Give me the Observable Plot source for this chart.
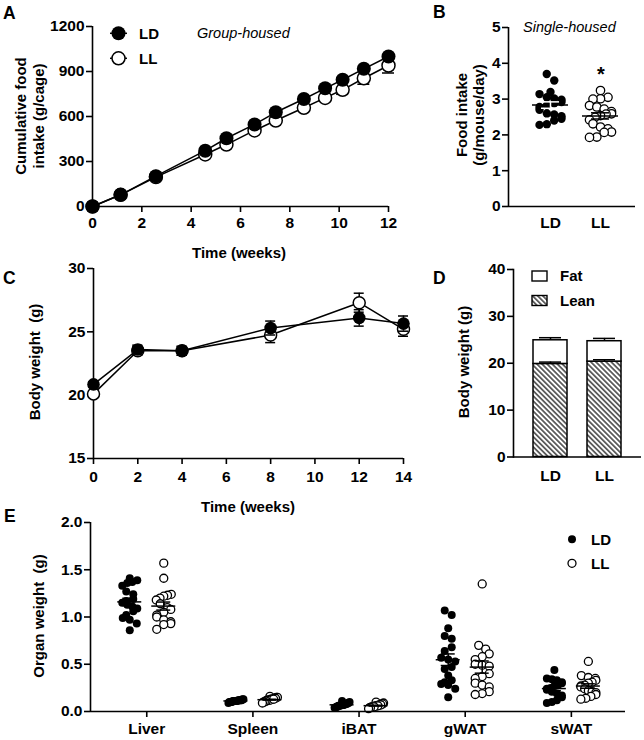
<!DOCTYPE html>
<html>
<head>
<meta charset="utf-8">
<script src="https://cdn.jsdelivr.net/npm/d3@7"></script>
<script src="https://cdn.jsdelivr.net/npm/@observablehq/plot@0.6"></script>
<style>
html, body { margin: 0; padding: 0; background: #fff; }
#root { position: relative; width: 644px; height: 740px; overflow: hidden; }
#root > svg { position: absolute; }
g[aria-label$="axis tick"], g[aria-label="x-axis"] line, g[aria-label="y-axis"] line { stroke-width: 1.6px; }
</style>
</head>
<body>
<div id="root"></div>
<script>
// ================= DATA =================
const groups = ["LD", "LL"];

// Panel A: cumulative food intake, group-housed (g/cage)
const intakeWeeks = [0, 1.14, 2.57, 4.57, 5.43, 6.57, 7.43, 8.57, 9.43, 10.14, 11, 12];
const intakeLD = [0, 78, 202, 372, 455, 547, 628, 717, 788, 845, 918, 1000];
const intakeLL = [0, 78, 196, 347, 413, 507, 573, 658, 724, 778, 855, 940];
const intakeLLsem = [0, 3, 5, 8, 9, 10, 12, 14, 18, 30, 40, 50];
const intakeTicksX = [0, 2, 4, 6, 8, 10, 12];
const intakeTicksY = [0, 300, 600, 900, 1200];

// Panel B: food intake, single-housed (g/mouse/day)
const singleLD = [3.70, 3.52, 3.20, 3.14, 3.05, 3.02, 2.98, 2.92, 2.88, 2.82, 2.78, 2.70, 2.60, 2.57, 2.52, 2.45, 2.40, 2.30, 2.28];
const singleLL = [3.24, 3.05, 3.01, 3.00, 2.82, 2.78, 2.72, 2.65, 2.59, 2.58, 2.54, 2.49, 2.42, 2.31, 2.22, 2.17, 2.08, 2.07, 1.94, 1.93];
const singleTicksY = [0, 1, 2, 3, 4, 5];

// Panel C: body weight over time (g)
const bwWeeks = [0, 2, 4, 8, 12, 14];
const bwLD = [20.85, 23.6, 23.5, 25.3, 26.1, 25.65];
const bwLDsem = [0.2, 0.35, 0.35, 0.55, 0.65, 0.6];
const bwLL = [20.1, 23.5, 23.5, 24.75, 27.3, 25.2];
const bwLLsem = [0.2, 0.35, 0.35, 0.6, 0.75, 0.55];
const bwTicksX = [0, 2, 4, 6, 8, 10, 12, 14];
const bwTicksY = [15, 20, 25, 30];

// Panel D: body composition (g)
const compParts = ["Fat", "Lean"];
const leanMass = [19.85, 20.35];
const leanSEM = [0.4, 0.4];
const fatMass = [5.05, 4.35];
const totalSEM = [0.55, 0.6];
const compTicksY = [0, 10, 20, 30, 40];

// Panel E: organ weights (g)
const organs = ["Liver", "Spleen", "iBAT", "gWAT", "sWAT"];
const liverLD = [1.41, 1.39, 1.37, 1.36, 1.33, 1.27, 1.24, 1.19, 1.17, 1.15, 1.13, 1.11, 1.09, 1.06, 1.02, 0.99, 0.97, 0.93, 0.86];
const liverLL = [1.57, 1.41, 1.24, 1.23, 1.22, 1.20, 1.18, 1.14, 1.10, 1.08, 1.05, 1.02, 1.00, 0.97, 0.95, 0.93, 0.92, 0.87];
const spleenLD = [0.13, 0.13, 0.12, 0.12, 0.12, 0.12, 0.11, 0.11, 0.11, 0.11, 0.11, 0.10, 0.10, 0.10, 0.10, 0.09, 0.12, 0.11];
const spleenLL = [0.16, 0.15, 0.15, 0.14, 0.14, 0.13, 0.13, 0.13, 0.12, 0.12, 0.12, 0.12, 0.11, 0.11, 0.10, 0.10, 0.09, 0.13];
const ibatLD = [0.11, 0.10, 0.09, 0.09, 0.08, 0.08, 0.08, 0.07, 0.07, 0.07, 0.07, 0.06, 0.06, 0.06, 0.05, 0.05, 0.04, 0.04];
const ibatLL = [0.10, 0.09, 0.08, 0.08, 0.07, 0.07, 0.07, 0.06, 0.06, 0.06, 0.06, 0.05, 0.05, 0.05, 0.05, 0.04, 0.04, 0.03];
const gwatLD = [1.07, 1.02, 0.88, 0.80, 0.77, 0.68, 0.64, 0.57, 0.55, 0.53, 0.47, 0.45, 0.38, 0.33, 0.31, 0.29, 0.28, 0.24, 0.15];
const gwatLL = [1.35, 0.70, 0.66, 0.61, 0.58, 0.55, 0.50, 0.49, 0.48, 0.40, 0.37, 0.35, 0.30, 0.28, 0.26, 0.21, 0.19, 0.18];
const swatLD = [0.44, 0.35, 0.34, 0.33, 0.31, 0.30, 0.28, 0.27, 0.25, 0.24, 0.23, 0.21, 0.19, 0.17, 0.15, 0.12, 0.10, 0.09];
const swatLL = [0.53, 0.38, 0.36, 0.35, 0.33, 0.31, 0.30, 0.28, 0.27, 0.26, 0.24, 0.22, 0.21, 0.20, 0.18, 0.16, 0.14, 0.13];
const organTicksY = [0, 0.5, 1.0, 1.5, 2.0];

// ================= HELPERS =================
const FONT = '"Liberation Sans", Arial, Helvetica, sans-serif';
const baseStyle = {fontFamily: FONT, fontSize: "15.5px", fontWeight: "bold", color: "black", background: "transparent", overflow: "visible"};
const root = document.getElementById("root");
function place(svg, left, top) {
  svg.style.position = "absolute";
  svg.style.left = left + "px";
  svg.style.top = top + "px";
  root.appendChild(svg);
}
// Prism-like scatter layout: bin by value rows, spread within a row (pixel offsets)
function swarmOffsets(values, pxPerUnit, row, step, maxHalf) {
  const idx = d3.range(values.length).sort((a, b) => values[a] - values[b]);
  const off = new Array(values.length).fill(0);
  const rows = [];
  let cur = [], start = 0;
  for (const i of idx) {
    const p = values[i] * pxPerUnit;
    if (cur.length && p - start >= row) { rows.push(cur); cur = []; }
    if (!cur.length) start = p;
    cur.push(i);
  }
  if (cur.length) rows.push(cur);
  rows.forEach((r, ri) => {
    const k = r.length;
    const s = k > 1 ? Math.min(step, 2 * maxHalf / (k - 1)) : 0;
    const order = ri % 2 ? r.slice().reverse() : r;
    order.forEach((i, j) => off[i] = (j - (k - 1) / 2) * s);
  });
  return off;
}
function stats(vals) {
  const m = d3.mean(vals), se = d3.deviation(vals) / Math.sqrt(vals.length);
  return {mean: m, lo: m - se, hi: m + se};
}

// ================= PANEL A =================
{
  const W = 400, H = 232, ml = 92, mr = 12, mt = 26, mb = 26;
  const ux = 12 / (W - ml - mr); // weeks per px
  const rowsLD = intakeWeeks.map((w, i) => ({week: w, value: intakeLD[i]}));
  const rowsLL = intakeWeeks.map((w, i) => ({week: w, value: intakeLL[i], sem: intakeLLsem[i]}));
  const cap = 6 * ux;
  const svg = Plot.plot({
    width: W, height: H, marginLeft: ml, marginRight: mr, marginTop: mt, marginBottom: mb,
    style: baseStyle,
    x: {domain: [0, 12], ticks: intakeTicksX, tickFormat: "d", tickSize: 6, tickPadding: 4, label: null},
    y: {domain: [0, 1200], ticks: intakeTicksY, tickFormat: "d", tickSize: 6, tickPadding: 2, label: null},
    marks: [
      Plot.ruleX([0], {strokeWidth: 1.6}),
      Plot.ruleY([0], {strokeWidth: 1.6}),
      Plot.line(rowsLL, {x: "week", y: "value", stroke: "black", strokeWidth: 1.5}),
      Plot.line(rowsLD, {x: "week", y: "value", stroke: "black", strokeWidth: 1.5}),
      Plot.ruleX(rowsLL, {x: "week", y1: d => d.value - d.sem, y2: d => d.value + d.sem, strokeWidth: 1.5}),
      Plot.ruleY(rowsLL, {y: d => d.value - d.sem, x1: d => d.week - cap, x2: d => d.week + cap, strokeWidth: 1.5}),
      Plot.dot(rowsLL, {x: "week", y: "value", r: 6.5, fill: "white", stroke: "black", strokeWidth: 1.5}),
      Plot.dot(rowsLD, {x: "week", y: "value", r: 7, fill: "black"})
    ]
  });
  place(svg, 0, 0);
}

// ================= PANEL B =================
{
  const W = 244, H = 232, ml = 108, mr = 9, mt = 27, mb = 26;
  const xDom = [-0.84, 1.70];
  const kx = (W - ml - mr) / (xDom[1] - xDom[0]);
  const ky = (H - mt - mb) / 5;
  const sets = [singleLD, singleLL];
  const rows = [], st = [];
  sets.forEach((vals, gi) => {
    const off = swarmOffsets(vals, ky, 6.5, 7.5, 11);
    vals.forEach((v, i) => rows.push({group: groups[gi], x: gi + off[i] / kx, value: v}));
    st.push({group: groups[gi], center: gi, ...stats(vals)});
  });
  const mh = 18 / kx, ch = 9 / kx;
  const svg = Plot.plot({
    width: W, height: H, marginLeft: ml, marginRight: mr, marginTop: mt, marginBottom: mb,
    style: baseStyle,
    x: {domain: xDom, ticks: [0, 1], tickFormat: i => groups[i], tickSize: 0, tickPadding: 10, label: null},
    y: {domain: [0, 5], ticks: singleTicksY, tickFormat: "d", tickSize: 6, tickPadding: 2, label: null},
    color: {type: "identity"},
    marks: [
      Plot.ruleX([xDom[0]], {strokeWidth: 1.6}),
      Plot.ruleY([0], {strokeWidth: 1.6}),
      Plot.dot(rows.filter(d => d.group === "LD"), {x: "x", y: "value", r: 4.2, fill: "black"}),
      Plot.dot(rows.filter(d => d.group === "LL"), {x: "x", y: "value", r: 4.2, fill: "white", stroke: "black", strokeWidth: 1.3}),
      Plot.ruleY(st, {y: "mean", x1: d => d.center - mh, x2: d => d.center + mh, strokeWidth: 1.5}),
      Plot.ruleY(st, {y: "lo", x1: d => d.center - ch, x2: d => d.center + ch, strokeWidth: 1.5, stroke: d => d.group === "LD" ? "white" : "black"}),
      Plot.ruleY(st, {y: "hi", x1: d => d.center - ch, x2: d => d.center + ch, strokeWidth: 1.5, stroke: d => d.group === "LD" ? "white" : "black"}),
      Plot.ruleX(st, {x: "center", y1: "lo", y2: "hi", strokeWidth: 1.5, stroke: d => d.group === "LD" ? "white" : "black"})
    ]
  });
  place(svg, 400, 0);
}

// ================= PANEL C =================
{
  const W = 415, H = 236, ml = 93, mr = 12, mt = 18, mb = 28;
  const ux = 14 / (W - ml - mr);
  const cap = 5 * ux;
  const rowsLD = bwWeeks.map((w, i) => ({week: w, value: bwLD[i], sem: bwLDsem[i]}));
  const rowsLL = bwWeeks.map((w, i) => ({week: w, value: bwLL[i], sem: bwLLsem[i]}));
  const err = rows => [
    Plot.ruleX(rows, {x: "week", y1: d => d.value - d.sem, y2: d => d.value + d.sem, strokeWidth: 1.5}),
    Plot.ruleY(rows, {y: d => d.value - d.sem, x1: d => d.week - cap, x2: d => d.week + cap, strokeWidth: 1.5}),
    Plot.ruleY(rows, {y: d => d.value + d.sem, x1: d => d.week - cap, x2: d => d.week + cap, strokeWidth: 1.5})
  ];
  const svg = Plot.plot({
    width: W, height: H, marginLeft: ml, marginRight: mr, marginTop: mt, marginBottom: mb,
    style: baseStyle,
    x: {domain: [0, 14], ticks: bwTicksX, tickFormat: "d", tickSize: 6, tickPadding: 6, label: null},
    y: {domain: [15, 30], ticks: bwTicksY, tickFormat: "d", tickSize: 6, tickPadding: 2, label: null},
    marks: [
      Plot.ruleX([0], {strokeWidth: 1.6}),
      Plot.ruleY([15], {strokeWidth: 1.6}),
      Plot.line(rowsLL, {x: "week", y: "value", strokeWidth: 1.5}),
      Plot.line(rowsLD, {x: "week", y: "value", strokeWidth: 1.5}),
      ...err(rowsLL),
      Plot.dot(rowsLL, {x: "week", y: "value", r: 6, fill: "white", stroke: "black", strokeWidth: 1.5}),
      ...err(rowsLD),
      Plot.dot(rowsLD, {x: "week", y: "value", r: 6.3, fill: "black"})
    ]
  });
  place(svg, 0, 250);
}

// ================= PANEL D =================
{
  const W = 244, H = 235, ml = 113, mr = 3, mt = 19, mb = 28.5;
  const rows = groups.map((g, i) => ({group: g, lean: leanMass[i], total: leanMass[i] + fatMass[i], leanSem: leanSEM[i], totalSem: totalSEM[i]}));
  const svg = Plot.plot({
    width: W, height: H, marginLeft: ml, marginRight: mr, marginTop: mt, marginBottom: mb,
    style: baseStyle,
    x: {domain: groups, padding: 0.37, tickSize: 0, tickPadding: 13, label: null},
    y: {domain: [0, 40], ticks: compTicksY, tickFormat: "d", tickSize: 6, tickPadding: 2, label: null},
    marks: [
      Plot.barY(rows, {x: "group", y1: 0, y2: "lean", fill: "url(#hatch)", stroke: "black", strokeWidth: 1.5}),
      Plot.barY(rows, {x: "group", y1: "lean", y2: "total", fill: "white", stroke: "black", strokeWidth: 1.5}),
      Plot.ruleX(rows, {x: "group", y1: "lean", y2: d => d.lean + d.leanSem, strokeWidth: 1.5}),
      Plot.ruleY(rows, {x1: "group", x2: "group", y: d => d.lean + d.leanSem, insetLeft: 6, insetRight: 6, strokeWidth: 1.5}),
      Plot.ruleX(rows, {x: "group", y1: "total", y2: d => d.total + d.totalSem, strokeWidth: 1.5}),
      Plot.ruleY(rows, {x1: "group", x2: "group", y: d => d.total + d.totalSem, insetLeft: 6, insetRight: 6, strokeWidth: 1.5}),
      Plot.frame({anchor: "left", strokeWidth: 1.6}),
      Plot.ruleY([0], {strokeWidth: 1.6})
    ]
  });
  place(svg, 400, 250);
}

// ================= PANEL E =================
{
  const W = 644, H = 235, ml = 90, mr = 19, mt = 17, mb = 29;
  const xDom = [-0.53, 4.51];
  const kx = (W - ml - mr) / (xDom[1] - xDom[0]);
  const ky = (H - mt - mb) / 2;
  const sets = [[liverLD, liverLL], [spleenLD, spleenLL], [ibatLD, ibatLL], [gwatLD, gwatLL], [swatLD, swatLL]];
  const rows = [], st = [];
  sets.forEach((pair, oi) => pair.forEach((vals, gi) => {
    const center = oi + (gi ? 1 : -1) * 17 / kx;
    const off = swarmOffsets(vals, ky, 6.5, 7, 7.5);
    vals.forEach((v, i) => rows.push({organ: organs[oi], group: groups[gi], x: center + off[i] / kx, value: v}));
    st.push({organ: organs[oi], group: groups[gi], center, ...stats(vals)});
  }));
  const mh = 12 / kx, ch = 7 / kx;
  const svg = Plot.plot({
    width: W, height: H, marginLeft: ml, marginRight: mr, marginTop: mt, marginBottom: mb,
    style: baseStyle,
    x: {domain: xDom, ticks: d3.range(organs.length), tickFormat: i => organs[i], tickSize: 6, tickPadding: 5, label: null},
    y: {domain: [0, 2], ticks: organTicksY, tickFormat: ".1f", tickSize: 6, tickPadding: 2, label: null},
    marks: [
      Plot.ruleX([xDom[0]], {strokeWidth: 1.6}),
      Plot.dot(rows.filter(d => d.group === "LD"), {x: "x", y: "value", r: 4, fill: "black"}),
      Plot.dot(rows.filter(d => d.group === "LL"), {x: "x", y: "value", r: 4, fill: "white", stroke: "black", strokeWidth: 1.3}),
      Plot.ruleY(st, {y: "mean", x1: d => d.center - mh, x2: d => d.center + mh, strokeWidth: 1.5}),
      Plot.ruleY(st, {y: "lo", x1: d => d.center - ch, x2: d => d.center + ch, strokeWidth: 1.5}),
      Plot.ruleY(st, {y: "hi", x1: d => d.center - ch, x2: d => d.center + ch, strokeWidth: 1.5}),
      Plot.ruleX(st, {x: "center", y1: "lo", y2: "hi", strokeWidth: 1.5}),
      Plot.ruleY([0], {strokeWidth: 1.6})
    ]
  });
  place(svg, 0, 505);
}

// ================= OVERLAY (titles, panel letters, legends) =================
{
  const ov = d3.select(root).append("svg")
    .attr("width", 644).attr("height", 740)
    .style("position", "absolute").style("left", "0px").style("top", "0px")
    .style("pointer-events", "none").style("overflow", "visible")
    .attr("font-family", FONT).attr("fill", "black");
  const defs = ov.append("defs");
  const pat = defs.append("pattern").attr("id", "hatch").attr("patternUnits", "userSpaceOnUse")
    .attr("width", 3.6).attr("height", 3.6).attr("patternTransform", "rotate(-45)");
  pat.append("rect").attr("width", 3.6).attr("height", 3.6).attr("fill", "white");
  pat.append("line").attr("x1", 1.8).attr("y1", -1).attr("x2", 1.8).attr("y2", 5).attr("stroke", "black").attr("stroke-width", 1.15);

  const letters = [["A", 3, 19], ["B", 433, 18], ["C", 3, 284], ["D", 433, 284], ["E", 4, 522]];
  letters.forEach(([t, x, y]) => ov.append("text").attr("x", x).attr("y", y)
    .attr("font-size", 17.5).attr("font-weight", "bold").text(t));

  const hTitles = [["Time (weeks)", 239, 252.5], ["Time (weeks)", 248, 506.5]];
  hTitles.forEach(([t, x, y]) => ov.append("text").attr("x", x).attr("y", y).attr("dy", "0.35em")
    .attr("text-anchor", "middle").attr("font-size", 15).attr("font-weight", "bold").text(t));

  const vTitles = [
    ["Cumulative food", 20.5, 116], ["intake (g/cage)", 38.5, 116],
    ["Food intake", 461.5, 115], ["(g/mouse/day)", 479, 115],
    ["Body weight  (g)", 35, 362],
    ["Body weight (g)", 464, 362],
    ["Organ weight  (g)", 39, 616]
  ];
  vTitles.forEach(([t, x, y]) => ov.append("text").attr("transform", `translate(${x},${y}) rotate(-90)`)
    .attr("dy", "0.35em").attr("text-anchor", "middle").attr("font-size", 15).attr("font-weight", "bold")
    .style("white-space", "pre").text(t));

  const notes = [["Group-housed", 197, 32.5], ["Single-housed", 523, 27]];
  notes.forEach(([t, x, y]) => ov.append("text").attr("x", x).attr("y", y).attr("dy", "0.35em")
    .attr("font-size", 14.5).attr("font-style", "italic").text(t));

  ov.append("text").attr("x", 601).attr("y", 81).attr("text-anchor", "middle")
    .attr("font-size", 20).attr("font-weight", "bold").text("*");

  // Legend A
  groups.forEach((g, i) => {
    const y = 33.3 + i * 25;
    ov.append("line").attr("x1", 110).attr("x2", 127).attr("y1", y).attr("y2", y).attr("stroke", "black").attr("stroke-width", 1.5);
    ov.append("circle").attr("cx", 118.5).attr("cy", y).attr("r", i ? 6.5 : 7)
      .attr("fill", i ? "white" : "black").attr("stroke", i ? "black" : "none").attr("stroke-width", 1.5);
    ov.append("text").attr("x", 139).attr("y", y).attr("dy", "0.35em").attr("font-size", 15).attr("font-weight", "bold").text(g);
  });
  // Legend D
  compParts.forEach((p, i) => {
    const y = 271 + i * 24.5;
    ov.append("rect").attr("x", 532).attr("y", y).attr("width", 15).attr("height", 10)
      .attr("fill", i ? "url(#hatch)" : "white").attr("stroke", "black").attr("stroke-width", 1.4);
    ov.append("text").attr("x", 560).attr("y", y + 5).attr("dy", "0.35em").attr("font-size", 15).attr("font-weight", "bold").text(p);
  });
  // Legend E
  groups.forEach((g, i) => {
    const y = 539.3 + i * 24;
    ov.append("circle").attr("cx", 572).attr("cy", y).attr("r", 4)
      .attr("fill", i ? "white" : "black").attr("stroke", i ? "black" : "none").attr("stroke-width", 1.3);
    ov.append("text").attr("x", 591).attr("y", y).attr("dy", "0.35em").attr("font-size", 15).attr("font-weight", "bold").text(g);
  });
}
</script>
</body>
</html>
